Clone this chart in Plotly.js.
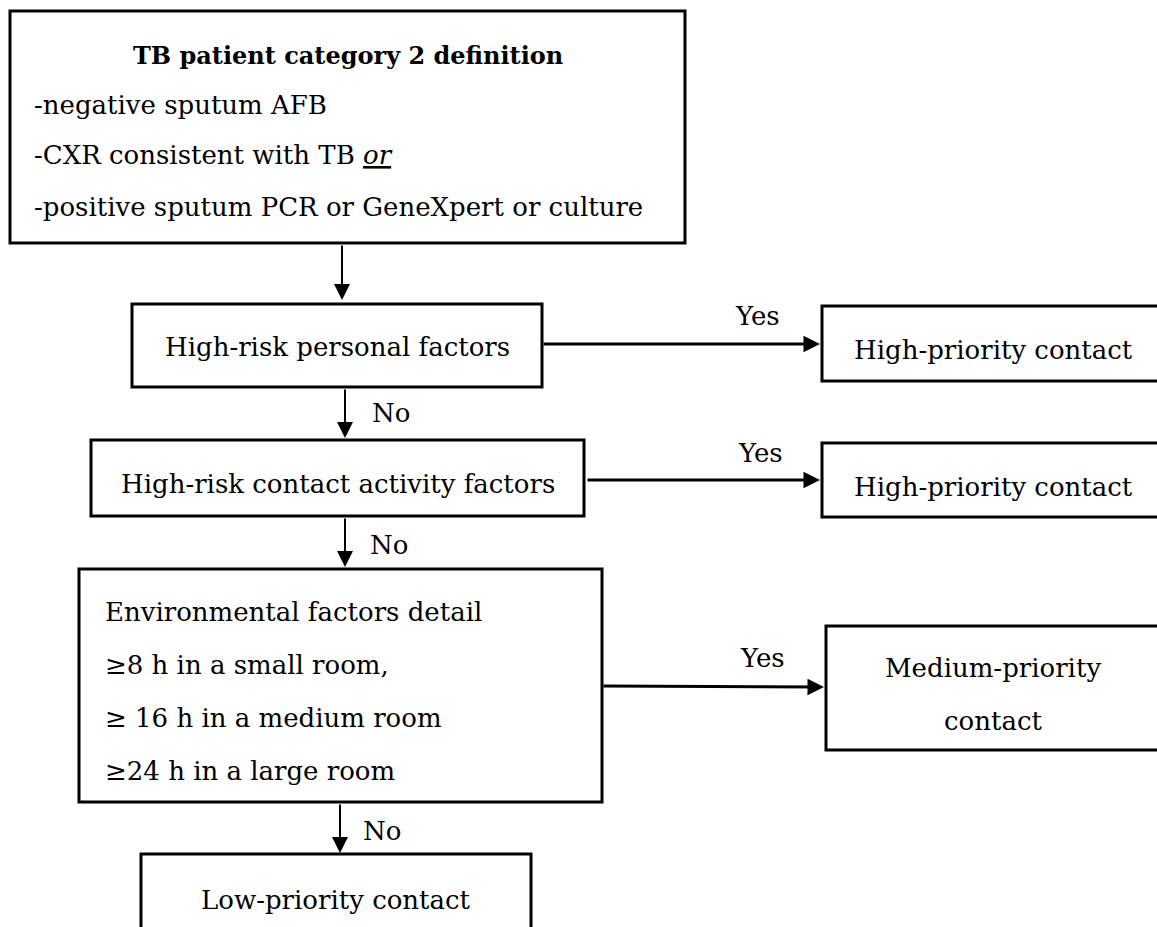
<!DOCTYPE html>
<html><head><meta charset="utf-8">
<script src="https://cdn.plot.ly/plotly-3.0.1.min.js"></script>
<style>body{margin:0;background:#fff}#c{width:1157px;height:927px}</style>
</head><body><div id="c"></div>
<script>
// Text content
const boxTitle = "TB patient category 2 definition";
const boxLines1 = ["-negative sputum AFB", "-CXR consistent with TB <span style=\"text-decoration:underline\"><i>or</i></span>", "-positive sputum PCR or GeneXpert or culture"];
const decisions = ["High-risk personal factors", "High-risk contact activity factors"];
const envLines = ["Environmental factors detail", "≥8 h in a small room,", "≥ 16 h in a medium room", "≥24 h in a large room"];
const outcomes = ["High-priority contact", "High-priority contact", "Medium-priority", "contact", "Low-priority contact"];
const branchLabels = ["Yes", "No"];

// Layout geometry (pixel coordinates)
const boxes = [
  [10, 11, 685, 243],
  [132, 304, 542, 387],
  [91, 440, 584, 516],
  [79, 569, 602, 802],
  [141, 854, 531, 940],
  [822, 306, 1170, 381],
  [822, 443, 1170, 517],
  [826, 626, 1170, 750]
];
const FONT = "DejaVu Serif";
const FS = 26;
const shapes = boxes.map(b => ({type:'rect', xref:'x', yref:'y', x0:b[0], y0:b[1], x1:b[2], y1:b[3], line:{color:'#000', width:3}, fillcolor:'rgba(0,0,0,0)'}));

const ann = [];
function txt(x, y, t, opt) {
  ann.push(Object.assign({x:x, y:y, xref:'x', yref:'y', text:t, showarrow:false, font:{family:FONT, size:FS, color:'#000'}, xanchor:'center', yanchor:'middle'}, opt||{}));
}
txt(348, 55, '<b>' + boxTitle + '</b>', {font:{family:FONT, size:24, color:'#000'}});
const y1 = [105, 155, 207];
boxLines1.forEach((t,i) => txt(32, y1[i], t, {xanchor:'left'}));
txt(337, 347, decisions[0]);
txt(338, 484, decisions[1]);
const ye = [612, 665, 718, 771];
envLines.forEach((t,i) => txt(103, ye[i], t, {xanchor:'left'}));
txt(993, 350, outcomes[0]);
txt(993, 487, outcomes[1]);
txt(993, 668, outcomes[2]);
txt(993, 721, outcomes[3]);
txt(336, 900, outcomes[4]);
// branch labels
txt(757, 316, branchLabels[0]);
txt(760, 453, branchLabels[0]);
txt(762, 658, branchLabels[0]);
txt(391, 413, branchLabels[1]);
txt(389, 545, branchLabels[1]);
txt(382, 831, branchLabels[1]);

function arrow(x0, y0, x1, y1, w) {
  ann.push({x:x1, y:y1, ax:x0, ay:y0, xref:'x', yref:'y', axref:'x', ayref:'y', text:'', showarrow:true, arrowhead:2, arrowsize:w>2?1.1:1.6, arrowwidth:w, arrowcolor:'#000', standoff:0});
}
arrow(342, 244, 342, 300, 2);
arrow(345, 388, 345, 438, 2);
arrow(345, 517, 345, 567, 2);
arrow(340, 803, 340, 853, 2);
arrow(542, 344, 820, 344, 3);
arrow(586, 480, 820, 480, 3);
arrow(602, 686, 824, 687, 3);

Plotly.newPlot('c', [{x:[], y:[], type:'scatter', mode:'markers', hoverinfo:'skip'}], {
  width:1157, height:927, margin:{l:0,r:0,t:0,b:0},
  paper_bgcolor:'#fff', plot_bgcolor:'#fff', showlegend:false,
  xaxis:{range:[0,1157], visible:false, fixedrange:true},
  yaxis:{range:[927,0], visible:false, fixedrange:true},
  shapes:shapes, annotations:ann
}, {staticPlot:true});
</script></body></html>
